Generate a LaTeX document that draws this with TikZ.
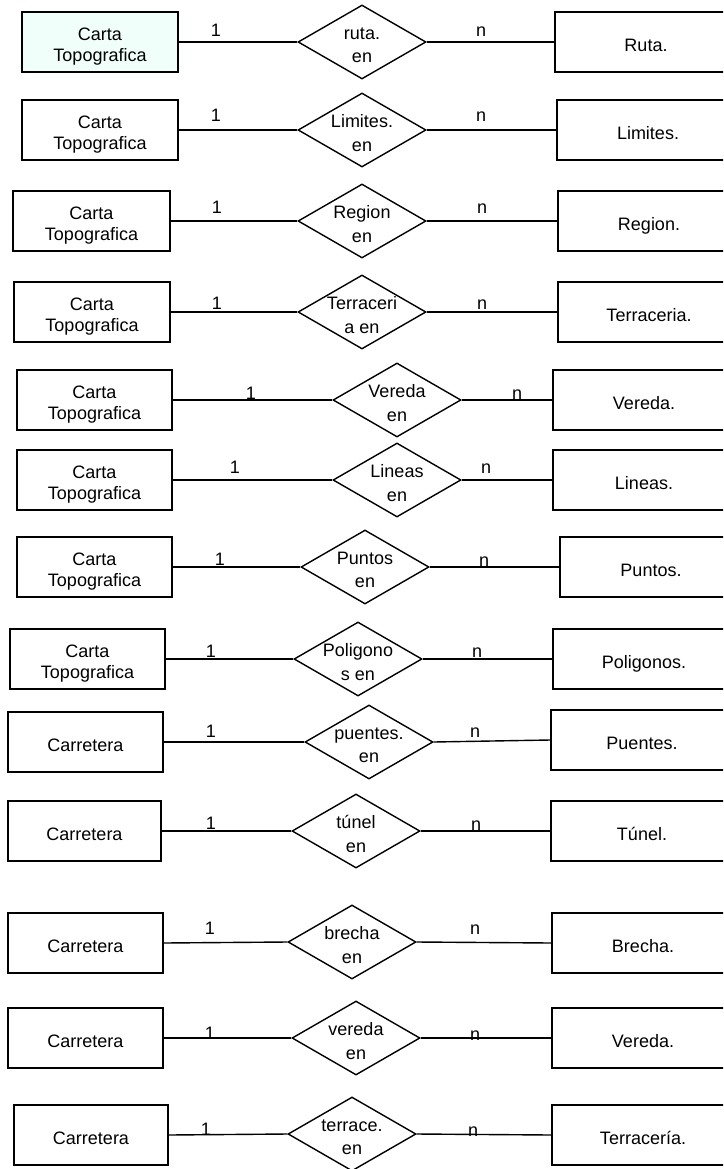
\documentclass[tikz,border=0pt]{standalone}
\usepackage{fontspec}
\setmainfont{Liberation Sans}
\usetikzlibrary{shapes.geometric}
\definecolor{mint}{RGB}{240,255,250}
\tikzset{
  ent/.style={draw, line width=1.4pt, rectangle, inner sep=0pt, minimum height=60pt},
  rel/.style={draw, line width=1.4pt, diamond, inner sep=0pt, minimum width=128pt, minimum height=74pt},
  con/.style={line width=1.4pt},
  txtB/.style={font=\fontsize{18}{20.7}\selectfont, align=center, text depth=0pt, inner sep=0pt, yshift=-3pt},
  txtD/.style={font=\fontsize{18}{23.4}\selectfont, align=center, text depth=0pt, inner sep=0pt, yshift=-3pt},
  card/.style={font=\fontsize{18}{20}\selectfont, inner sep=0pt, anchor=base}
}
\begin{document}
\begin{tikzpicture}[x=1pt, y=-1pt]
\useasboundingbox (0,0) rectangle (723,1169);
\clip (0,0) rectangle (723,1169);

% Row 1
\node[ent, minimum width=156pt, fill=mint] (L1) at (100,42) {};
\node[txtB] (tL1) at (L1.center) {Carta\\Topografica};
\node[rel] (D1) at (362,42) {};
\node[txtD] (tD1) at (D1.center) {ruta.\\en};
\node[ent, minimum width=182pt] (R1) at (646,42) {};
\node[txtB] (tR1) at (R1.center) {Ruta.};
\draw[con] (L1.east) -- (D1.west);
\draw[con] (D1.east) -- (R1.west);
\node[card] (a1) at (216,37) {1};
\node[card] (b1) at (481,37) {n};

% Row 2
\node[ent, minimum width=156pt] (L2) at (100,130) {};
\node[txtB] (tL2) at (L2.center) {Carta\\Topografica};
\node[rel] (D2) at (362,130) {};
\node[txtD] (tD2) at (D2.center) {Limites.\\en};
\node[ent, minimum width=182pt] (R2) at (648,130) {};
\node[txtB] (tR2) at (R2.center) {Limites.};
\draw[con] (L2.east) -- (D2.west);
\draw[con] (D2.east) -- (R2.west);
\node[card] (a2) at (216,122) {1};
\node[card] (b2) at (481,122) {n};

% Row 3
\node[ent, minimum width=157pt] (L3) at (91.5,221) {};
\node[txtB] (tL3) at (L3.center) {Carta\\Topografica};
\node[rel] (D3) at (362,221) {};
\node[txtD] (tD3) at (D3.center) {Region\\en};
\node[ent, minimum width=182pt] (R3) at (649,221) {};
\node[txtB] (tR3) at (R3.center) {Region.};
\draw[con] (L3.east) -- (D3.west);
\draw[con] (D3.east) -- (R3.west);
\node[card] (a3) at (217,213) {1};
\node[card] (b3) at (482,213) {n};

% Row 4
\node[ent, minimum width=156pt] (L4) at (92,312) {};
\node[txtB] (tL4) at (L4.center) {Carta\\Topografica};
\node[rel] (D4) at (362,312) {};
\node[txtD] (tD4) at (D4.center) {Terraceri\\a en};
\node[ent, minimum width=182pt] (R4) at (649,312) {};
\node[txtB] (tR4) at (R4.center) {Terraceria.};
\draw[con] (L4.east) -- (D4.west);
\draw[con] (D4.east) -- (R4.west);
\node[card] (a4) at (217,309) {1};
\node[card] (b4) at (482,309) {n};

% Row 5
\node[ent, minimum width=155pt] (L5) at (94.5,400) {};
\node[txtB] (tL5) at (L5.center) {Carta\\Topografica};
\node[rel] (D5) at (397,400) {};
\node[txtD] (tD5) at (D5.center) {Vereda\\en};
\node[ent, minimum width=182pt] (R5) at (644,400) {};
\node[txtB] (tR5) at (R5.center) {Vereda.};
\draw[con] (L5.east) -- (D5.west);
\draw[con] (D5.east) -- (R5.west);
\node[card] (a5) at (251,399) {1};
\node[card] (b5) at (517,399) {n};

% Row 6
\node[ent, minimum width=155pt] (L6) at (94.5,480) {};
\node[txtB] (tL6) at (L6.center) {Carta\\Topografica};
\node[rel] (D6) at (397,480) {};
\node[txtD] (tD6) at (D6.center) {Lineas\\en};
\node[ent, minimum width=182pt] (R6) at (644,480) {};
\node[txtB] (tR6) at (R6.center) {Lineas.};
\draw[con] (L6.east) -- (D6.west);
\draw[con] (D6.east) -- (R6.west);
\node[card] (a6) at (235,473) {1};
\node[card] (b6) at (486,473) {n};

% Row 7
\node[ent, minimum width=155pt] (L7) at (94.5,567) {};
\node[txtB] (tL7) at (L7.center) {Carta\\Topografica};
\node[rel] (D7) at (365,567) {};
\node[txtD] (tD7) at (D7.center) {Puntos\\en};
\node[ent, minimum width=182pt] (R7) at (651,567) {};
\node[txtB] (tR7) at (R7.center) {Puntos.};
\draw[con] (L7.east) -- (D7.west);
\draw[con] (D7.east) -- (R7.west);
\node[card] (a7) at (220,565) {1};
\node[card] (b7) at (484,566) {n};

% Row 8
\node[ent, minimum width=155pt] (L8) at (87.5,659) {};
\node[txtB] (tL8) at (L8.center) {Carta\\Topografica};
\node[rel] (D8) at (358,659) {};
\node[txtD] (tD8) at (D8.center) {Poligono\\s en};
\node[ent, minimum width=182pt] (R8) at (644,659) {};
\node[txtB] (tR8) at (R8.center) {Poligonos.};
\draw[con] (L8.east) -- (D8.west);
\draw[con] (D8.east) -- (R8.west);
\node[card] (a8) at (211,657) {1};
\node[card] (b8) at (477,657) {n};

% Row 9
\node[ent, minimum width=155pt] (L9) at (85.5,742) {};
\node[txtB] (tL9) at (L9.center) {Carretera};
\node[rel] (D9) at (369,742) {};
\node[txtD] (tD9) at (D9.center) {puentes.\\en};
\node[ent, minimum width=182pt] (R9) at (642,740) {};
\node[txtB] (tR9) at (R9.center) {Puentes.};
\draw[con] (L9.east) -- (D9.west);
\draw[con] (D9.east) -- (R9.west);
\node[card] (a9) at (211,737) {1};
\node[card] (b9) at (475,737) {n};

% Row 10
\node[ent, minimum width=153pt] (L10) at (84.5,831) {};
\node[txtB] (tL10) at (L10.center) {Carretera};
\node[rel] (D10) at (356,831) {};
\node[txtD] (tD10) at (D10.center) {túnel\\en};
\node[ent, minimum width=182pt] (R10) at (642,831) {};
\node[txtB] (tR10) at (R10.center) {Túnel.};
\draw[con] (L10.east) -- (D10.west);
\draw[con] (D10.east) -- (R10.west);
\node[card] (a10) at (211,829) {1};
\node[card] (b10) at (476,830) {n};

% Row 11
\node[ent, minimum width=155pt] (L11) at (85.5,943) {};
\node[txtB] (tL11) at (L11.center) {Carretera};
\node[rel] (D11) at (352,942) {};
\node[txtD] (tD11) at (D11.center) {brecha\\en};
\node[ent, minimum width=182pt] (R11) at (643,943) {};
\node[txtB] (tR11) at (R11.center) {Brecha.};
\draw[con] (L11.east) -- (D11.west);
\draw[con] (D11.east) -- (R11.west);
\node[card] (a11) at (210,934) {1};
\node[card] (b11) at (475,934) {n};

% Row 12
\node[ent, minimum width=155pt] (L12) at (85.5,1038) {};
\node[txtB] (tL12) at (L12.center) {Carretera};
\node[rel] (D12) at (356,1038) {};
\node[txtD] (tD12) at (D12.center) {vereda\\en};
\node[ent, minimum width=182pt] (R12) at (643,1038) {};
\node[txtB] (tR12) at (R12.center) {Vereda.};
\draw[con] (L12.east) -- (D12.west);
\draw[con] (D12.east) -- (R12.west);
\node[card] (a12) at (210,1039) {1};
\node[card] (b12) at (475,1040) {n};

% Row 13
\node[ent, minimum width=154pt] (L13) at (91,1135) {};
\node[txtB] (tL13) at (L13.center) {Carretera};
\node[rel] (D13) at (352,1134) {};
\node[txtD] (tD13) at (D13.center) {terrace.\\en};
\node[ent, minimum width=182pt] (R13) at (643,1135) {};
\node[txtB] (tR13) at (R13.center) {Terracería.};
\draw[con] (L13.east) -- (D13.west);
\draw[con] (D13.east) -- (R13.west);
\node[card] (a13) at (206,1135) {1};
\node[card] (b13) at (473,1136) {n};
\end{tikzpicture}
\end{document}
